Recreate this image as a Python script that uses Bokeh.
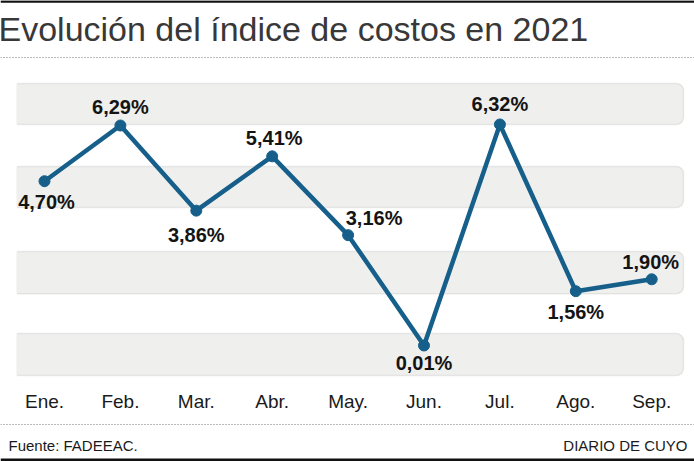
from bokeh.plotting import figure
from bokeh.models import BoxAnnotation, Label, Span, ColumnDataSource
from bokeh.core.properties import value
from bokeh.embed import file_html
from bokeh.resources import INLINE

# ---- data ----
months = ["Ene.", "Feb.", "Mar.", "Abr.", "May.", "Jun.", "Jul.", "Ago.", "Sep."]
cost_index = [4.70, 6.29, 3.86, 5.41, 3.16, 0.01, 6.32, 1.56, 1.90]

title_text = "Evolución del índice de costos en 2021"
source_text = "Fuente: FADEEAC."
brand_text = "DIARIO DE CUYO"

# ---- label placement (pixels) ----
label_dx = [2, 0, 0, 2, 26, 0, 0, 0, -1]
label_dy = [21, -19, 24, -18, -17, 18, -20, 21, -17]

# ---- decorative bands (value units) ----
band_ranges = [(7.49, 6.32), (5.12, 3.95), (2.69, 1.49), (0.35, -0.85)]
band_left, band_right = -0.356, 8.419
month_row = -1.60   # value level of the month labels row

W, H = 694, 461
FONT = "Liberation Sans"
LINE_COLOR = "#165f8a"
BAND_FILL = "#efefed"

idx = list(range(len(months)))
labels = [f"{v:.2f}".replace(".", ",") + "%" for v in cost_index]
src = ColumnDataSource(dict(x=idx, y=cost_index, label=labels, dx=label_dx, dy=label_dy))
msrc = ColumnDataSource(dict(x=idx, y=[month_row] * len(months), m=months))

p = figure(width=W, height=H, output_backend="svg", toolbar_location=None,
           x_range=(-0.5797, 8.5639), y_range=(-3.3015, 9.8587),
           x_axis_location=None, y_axis_location=None,
           min_border_left=0, min_border_right=0, min_border_top=0, min_border_bottom=0)
p.outline_line_color = None
p.grid.visible = False
p.background_fill_color = "white"
p.border_fill_color = "white"

# bands
for top, bottom in band_ranges:
    p.add_layout(BoxAnnotation(left=band_left, right=band_right, top=top, bottom=bottom,
                               fill_color=BAND_FILL, fill_alpha=1.0,
                               line_color="#bcbcbc", line_width=1.5,
                               border_radius=dict(top_left=0, bottom_left=0,
                                                  top_right=7, bottom_right=7),
                               level="underlay"))
    p.add_layout(BoxAnnotation(left=band_left - 0.01, right=band_left + 0.03,
                               top=top - 0.035, bottom=bottom + 0.035,
                               fill_color=BAND_FILL, fill_alpha=1.0, line_color=None,
                               level="underlay"))

# series
p.line("x", "y", source=src, line_width=4.5, line_color=LINE_COLOR)
p.scatter("x", "y", source=src, size=11, fill_color=LINE_COLOR, line_color=LINE_COLOR)
p.text("x", "y", text="label", source=src, x_offset="dx", y_offset="dy",
       text_align="center", text_baseline="middle",
       text_font=value(FONT), text_font_style="bold", text_font_size="20px",
       text_color="#141414")

# month labels
p.text("x", "y", text="m", source=msrc, text_align="center", text_baseline="middle",
       text_font=value(FONT), text_font_size="19px", text_color="#1a1a1a")

# title and rules (screen units measured from the bottom of the plot)
p.add_layout(Span(dimension="width", location=H - 1, location_units="screen",
                  line_color="#111111", line_width=2.5))
p.add_layout(Label(x=-2, y=H - 28, x_units="screen", y_units="screen",
                   text=title_text, text_font=FONT, text_font_size="34px",
                   text_color="#383838", text_baseline="middle", text_align="left"))
p.add_layout(Span(dimension="width", location=H - 57, location_units="screen",
                  line_color="#777777", line_width=1, line_dash="1 2"))

# footer
p.add_layout(Span(dimension="width", location=H - 424, location_units="screen",
                  line_color="#777777", line_width=1, line_dash="1 2"))
p.add_layout(Label(x=8, y=H - 445, x_units="screen", y_units="screen",
                   text=source_text, text_font=FONT, text_font_size="15px",
                   text_color="#1a1a1a", text_baseline="middle", text_align="left"))
p.add_layout(Label(x=687, y=H - 445, x_units="screen", y_units="screen",
                   text=brand_text, text_font=FONT, text_font_size="15px",
                   text_color="#1a1a1a", text_baseline="middle", text_align="right"))
p.add_layout(Span(dimension="width", location=1.5, location_units="screen",
                  line_color="#111111", line_width=3))

open("out.html", "w").write(file_html(p, INLINE))
